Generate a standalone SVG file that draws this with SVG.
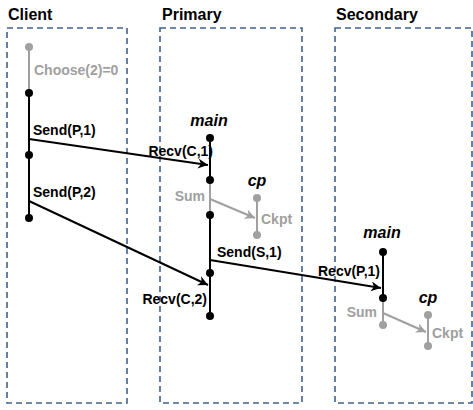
<svg xmlns="http://www.w3.org/2000/svg" width="473" height="410" viewBox="0 0 473 410">
<style>
.box{fill:none;stroke:#41618c;stroke-width:1.6;stroke-dasharray:6,4}
.t{font-family:"Liberation Sans",Arial,sans-serif;font-weight:bold}
.title{font-size:16px;fill:#000}
.lbl{font-size:14px;fill:#000}
.g{fill:#a0a0a0}
.it{font-style:italic;font-size:16px;fill:#000}
.bl{stroke:#000;stroke-width:2;fill:none}
.gl{stroke:#a0a0a0;stroke-width:2;fill:none}
.bd{fill:#000}
.gd{fill:#a0a0a0}
</style>
<defs>
<marker id="ab" markerWidth="12" markerHeight="10" refX="10" refY="5" orient="auto" markerUnits="userSpaceOnUse">
<path d="M0,0 L10,5 L0,10 L3,5 Z" fill="#000"/>
</marker>
<marker id="ag" markerWidth="12" markerHeight="10" refX="10" refY="5" orient="auto" markerUnits="userSpaceOnUse">
<path d="M0,0 L10,5 L0,10 L3,5 Z" fill="#a0a0a0"/>
</marker>
</defs>
<g id="client">
<rect class="box" x="7" y="28" width="120" height="375"/>
<text class="t title" x="8" y="20">Client</text>
<line class="gl" x1="29" y1="47" x2="29" y2="93"/>
<line class="bl" x1="29" y1="93" x2="29" y2="218"/>
<circle class="gd" cx="29" cy="47" r="4"/>
<circle class="bd" cx="29" cy="93" r="4"/>
<circle class="bd" cx="29" cy="155" r="4"/>
<circle class="bd" cx="29" cy="218" r="4"/>
<text class="t lbl g" x="34" y="75">Choose(2)=0</text>
<text class="t lbl" x="33" y="135">Send(P,1)</text>
<text class="t lbl" x="33" y="197">Send(P,2)</text>
</g>
<g id="primary">
<rect class="box" x="160" y="28" width="142" height="375"/>
<text class="t title" x="162" y="20">Primary</text>
<text class="t it" x="209" y="126" text-anchor="middle">main</text>
<line class="bl" x1="210" y1="138" x2="210" y2="180"/>
<line class="gl" x1="210" y1="180" x2="210" y2="215"/>
<line class="bl" x1="210" y1="215" x2="210" y2="316"/>
<circle class="bd" cx="210" cy="138" r="4"/>
<circle class="bd" cx="210" cy="180" r="4"/>
<circle class="bd" cx="210" cy="215" r="4"/>
<circle class="bd" cx="210" cy="273" r="4"/>
<circle class="bd" cx="210" cy="316" r="4"/>
<text class="t lbl" x="213" y="156" text-anchor="end">Recv(C,1)</text>
<text class="t lbl g" x="205" y="201" text-anchor="end">Sum</text>
<text class="t it" x="257" y="186" text-anchor="middle">cp</text>
<line class="gl" x1="257" y1="198" x2="257" y2="235"/>
<circle class="gd" cx="257" cy="198" r="4"/>
<circle class="gd" cx="257" cy="235" r="4"/>
<text class="t lbl g" x="261" y="224">Ckpt</text>
<text class="t lbl" x="217" y="257">Send(S,1)</text>
<text class="t lbl" x="207" y="304" text-anchor="end">Recv(C,2)</text>
</g>
<g id="secondary">
<rect class="box" x="335" y="28" width="137" height="375"/>
<text class="t title" x="336" y="20">Secondary</text>
<text class="t it" x="382" y="238" text-anchor="middle">main</text>
<line class="bl" x1="383" y1="252" x2="383" y2="298"/>
<line class="gl" x1="383" y1="298" x2="383" y2="325"/>
<circle class="bd" cx="383" cy="252" r="4"/>
<circle class="bd" cx="383" cy="298" r="4"/>
<circle class="gd" cx="383" cy="325" r="4"/>
<text class="t lbl" x="380" y="276" text-anchor="end">Recv(P,1)</text>
<text class="t lbl g" x="377" y="317" text-anchor="end">Sum</text>
<text class="t it" x="428" y="303" text-anchor="middle">cp</text>
<line class="gl" x1="428" y1="315" x2="428" y2="346"/>
<circle class="gd" cx="428" cy="315" r="4"/>
<circle class="gd" cx="428" cy="346" r="4"/>
<text class="t lbl g" x="432" y="338">Ckpt</text>
</g>
<g id="connectors">
<line class="bl" x1="29" y1="139" x2="208" y2="165" marker-end="url(#ab)"/>
<line class="bl" x1="29" y1="201" x2="208" y2="285" marker-end="url(#ab)"/>
<line class="bl" x1="210" y1="260" x2="381" y2="288" marker-end="url(#ab)"/>
<line class="gl" x1="210" y1="199" x2="255" y2="218" marker-end="url(#ag)"/>
<line class="gl" x1="383" y1="313" x2="426" y2="332" marker-end="url(#ag)"/>
</g>
</svg>
